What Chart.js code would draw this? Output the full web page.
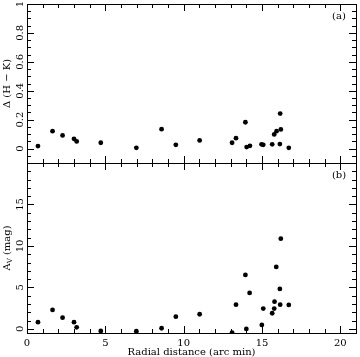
<!DOCTYPE html>
<html>
<head>
<meta charset="utf-8">
<script src="https://cdn.jsdelivr.net/npm/chart.js@4"></script>
<style>
  html, body { margin: 0; padding: 0; background: #fff; }
  #wrap { position: relative; width: 360px; height: 357px; }
  canvas { position: absolute; left: 0; top: 0; }
</style>
</head>
<body>
<div id="wrap">
  <canvas id="chart1" width="360" height="357"></canvas>
  <canvas id="chart2" width="360" height="357"></canvas>
</div>
<script>
// panel (a): colour excess vs radial distance
var radialA = [0.70, 1.63, 2.27, 3.00, 3.17, 4.71, 6.98, 8.59, 9.50, 11.02, 13.09, 13.34,
  13.94, 14.02, 14.23, 14.97, 15.08, 15.65, 15.78, 15.93, 16.14, 16.20, 16.16, 16.71];
var deltaHK = [0.017, 0.120, 0.091, 0.067, 0.049, 0.040, 0.005, 0.134, 0.026, 0.056, 0.040, 0.072,
  0.182, 0.010, 0.019, 0.029, 0.026, 0.029, 0.098, 0.120, 0.031, 0.132, 0.242, 0.005];

// panel (b): extinction vs radial distance
var radialB = [0.70, 1.63, 2.27, 3.00, 3.17, 4.71, 6.98, 8.59, 9.50, 11.02, 13.09, 13.34, 13.94,
  14.00, 14.21, 14.99, 15.08, 15.65, 15.78, 15.80, 15.91, 16.14, 16.16, 16.20, 16.71];
var extinction = [0.80, 2.28, 1.35, 0.80, 0.19, -0.25, -0.29, 0.07, 1.47, 1.76, -0.45, 2.92, 6.50,
  -0.01, 4.33, 0.47, 2.44, 1.88, 2.44, 3.28, 7.47, 4.81, 2.92, 10.88, 2.88];

var xTicks = [0, 5, 10, 15, 20];
var topTicks = [0, 0.2, 0.4, 0.6, 0.8, 1];
var bottomTicks = [0, 5, 10, 15];

var FONT = '"DejaVu Serif", serif';

function drawFrame(opts) {
  return {
    id: 'drawFrame',
    afterDraw: function (chart) {
      var ctx = chart.ctx;
      var a = chart.chartArea;
      var xs = chart.scales.x;
      var ys = chart.scales.y;
      ctx.save();
      ctx.strokeStyle = '#000';
      ctx.lineWidth = 1;
      ctx.strokeRect(a.left + 0.5, a.top + 0.5, a.right - a.left, a.bottom - a.top);

      // x ticks, pointing inward on top and bottom edge
      ctx.beginPath();
      for (var v = Math.ceil(xs.min); v <= xs.max; v++) {
        var px = Math.round(xs.getPixelForValue(v)) + 0.5;
        var len = v % 5 === 0 ? 7 : 4;
        ctx.moveTo(px, a.bottom);
        ctx.lineTo(px, a.bottom - len);
        ctx.moveTo(px, a.top);
        ctx.lineTo(px, a.top + len);
      }
      // y ticks, left and right
      var n = Math.round(opts.major / opts.minor);
      for (var i = Math.ceil(ys.min / opts.minor - 1e-6); i * opts.minor <= ys.max + 1e-9; i++) {
        var py = Math.round(ys.getPixelForValue(i * opts.minor)) + 0.5;
        var l = i % n === 0 ? 7 : 4;
        ctx.moveTo(a.left, py);
        ctx.lineTo(a.left + l, py);
        ctx.moveTo(a.right, py);
        ctx.lineTo(a.right - l, py);
      }
      ctx.stroke();

      ctx.fillStyle = '#000';
      ctx.font = '10px ' + FONT;
      ctx.textAlign = 'center';
      ctx.textBaseline = 'middle';
      // y tick labels, rotated
      opts.yLabels.forEach(function (t) {
        var py = ys.getPixelForValue(t);
        ctx.save();
        ctx.translate(20, py);
        ctx.rotate(-Math.PI / 2);
        ctx.fillText(String(t), 0, 0);
        ctx.restore();
      });

      // y title
      var cy = (a.top + a.bottom) / 2;
      ctx.save();
      ctx.translate(7, cy);
      ctx.rotate(-Math.PI / 2);
      ctx.font = '10px ' + FONT;
      if (opts.sub) {
        var w1 = ctx.measureText(opts.yTitle).width;
        ctx.font = '7px ' + FONT;
        var w2 = ctx.measureText(opts.sub).width;
        ctx.font = '10px ' + FONT;
        var w3 = ctx.measureText(opts.yRest).width;
        var x0 = -(w1 + w2 + w3) / 2;
        ctx.textAlign = 'left';
        ctx.fillText(opts.yTitle, x0, 0);
        ctx.font = '7px ' + FONT;
        ctx.fillText(opts.sub, x0 + w1, 3);
        ctx.font = '10px ' + FONT;
        ctx.fillText(opts.yRest, x0 + w1 + w2, 0);
      } else {
        ctx.fillText(opts.yTitle, 0, 0);
      }
      ctx.restore();

      // panel tag
      ctx.textAlign = 'center';
      ctx.fillText(opts.tag, 339, a.top + 12);

      if (opts.showX) {
        xTicks.forEach(function (t) {
          ctx.fillText(String(t), xs.getPixelForValue(t), a.bottom + 10);
        });
        ctx.font = '10px ' + FONT;
        ctx.fillText('Radial distance (arc min)', (a.left + a.right) / 2, a.bottom + 19);
      }
      ctx.restore();
    }
  };
}

function makePanel(id, xData, yData, yMin, yMax, pad, frameOpts) {
  var pts = xData.map(function (x, i) { return { x: x, y: yData[i] }; });
  return new Chart(document.getElementById(id), {
    type: 'scatter',
    data: {
      datasets: [{
        data: pts,
        pointRadius: 2.4,
        pointBackgroundColor: '#000',
        pointBorderWidth: 0
      }]
    },
    options: {
      responsive: false,
      animation: false,
      layout: { padding: pad },
      plugins: { legend: { display: false }, tooltip: { enabled: false } },
      scales: {
        x: { type: 'linear', display: false, min: 0, max: 21 },
        y: { type: 'linear', display: false, min: yMin, max: yMax }
      }
    },
    plugins: [drawFrame(frameOpts)]
  });
}

makePanel('chart1', radialA, deltaHK, -0.1, 1,
  { left: 27, right: 2, top: 3, bottom: 194 },
  { major: 0.2, minor: 0.05, yLabels: topTicks, yTitle: 'Δ (H − K)', tag: '(a)', showX: false });

makePanel('chart2', radialB, extinction, -0.5, 20,
  { left: 27, right: 2, top: 163, bottom: 24 },
  { major: 5, minor: 1, yLabels: bottomTicks, yTitle: 'A', sub: 'V', yRest: ' (mag)', tag: '(b)', showX: true });
</script>
</body>
</html>
